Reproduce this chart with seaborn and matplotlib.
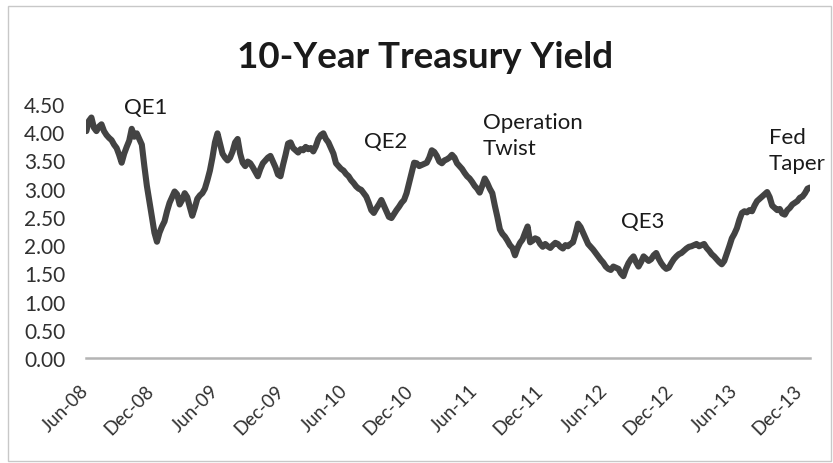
import numpy as np
import pandas as pd
import matplotlib
matplotlib.use("Agg")
import matplotlib.pyplot as plt
import matplotlib.dates as mdates
from matplotlib.patches import Rectangle
import seaborn as sns

# ---- data (weekly readings of the 10-year yield, Jun 2008 - Dec 2013) ----
start_date = "2008-06-02"
end_date = "2013-12-31"
yields = [
    # Jun - Nov 2008
    4.02, 4.20, 4.26, 4.08, 4.02, 4.10, 4.14, 4.02, 3.95, 3.90, 3.86, 3.78, 3.72,
    3.60, 3.46, 3.62, 3.74, 3.85, 4.06, 3.92, 3.98, 3.88, 3.78, 3.40, 3.05, 2.78,
    # Dec 2008 - May 2009
    2.50, 2.22, 2.06, 2.22, 2.33, 2.42, 2.60, 2.75, 2.85, 2.95, 2.90, 2.72, 2.80,
    2.92, 2.85, 2.68, 2.52, 2.66, 2.82, 2.88, 2.92, 3.00, 3.15, 3.32, 3.55, 3.82,
    # Jun - Nov 2009
    3.98, 3.80, 3.62, 3.55, 3.50, 3.55, 3.66, 3.82, 3.88, 3.62, 3.46, 3.40, 3.48,
    3.45, 3.38, 3.30, 3.22, 3.35, 3.45, 3.50, 3.55, 3.58, 3.48, 3.38, 3.25, 3.22,
    # Dec 2009 - May 2010
    3.42, 3.60, 3.80, 3.82, 3.72, 3.68, 3.64, 3.70, 3.68, 3.74, 3.70, 3.72, 3.66,
    3.75, 3.88, 3.95, 3.98, 3.88, 3.82, 3.72, 3.62, 3.45, 3.40, 3.35, 3.32, 3.26,
    # Jun - Nov 2010
    3.22, 3.15, 3.10, 3.04, 3.00, 2.98, 2.92, 2.86, 2.75, 2.62, 2.57, 2.65, 2.72,
    2.80, 2.70, 2.60, 2.50, 2.48, 2.55, 2.62, 2.68, 2.75, 2.80, 2.92, 3.10, 3.28,
    # Dec 2010 - May 2011
    3.46, 3.45, 3.40, 3.42, 3.44, 3.46, 3.55, 3.68, 3.65, 3.58, 3.48, 3.45, 3.50,
    3.52, 3.55, 3.60, 3.55, 3.45, 3.40, 3.35, 3.28, 3.22, 3.18, 3.12, 3.05, 3.00,
    # Jun - Nov 2011
    2.93, 3.05, 3.18, 3.10, 3.00, 2.92, 2.70, 2.50, 2.28, 2.20, 2.15, 2.08, 2.00,
    1.95, 1.82, 1.95, 2.04, 2.10, 2.22, 2.33, 2.05, 2.08, 2.12, 2.10, 2.02, 1.97,
    # Dec 2011 - May 2012
    2.02, 1.98, 1.95, 2.00, 2.04, 2.02, 1.97, 1.94, 2.00, 1.98, 2.02, 2.05, 2.20,
    2.38, 2.32, 2.22, 2.12, 2.02, 1.97, 1.92, 1.86, 1.80, 1.74, 1.69, 1.62, 1.58,
    # Jun - Nov 2012
    1.56, 1.62, 1.60, 1.58, 1.50, 1.45, 1.58, 1.68, 1.75, 1.80, 1.70, 1.62, 1.70,
    1.80, 1.76, 1.72, 1.75, 1.82, 1.86, 1.76, 1.68, 1.62, 1.58, 1.60, 1.68, 1.75,
    # Dec 2012 - May 2013
    1.80, 1.84, 1.86, 1.90, 1.94, 1.97, 1.98, 2.00, 2.02, 1.98, 2.00, 2.02, 1.95,
    1.90, 1.84, 1.80, 1.75, 1.70, 1.66, 1.72, 1.85, 1.98, 2.12, 2.20, 2.30, 2.45,
    # Jun - Dec 2013
    2.57, 2.60, 2.58, 2.62, 2.60, 2.70, 2.78, 2.82, 2.86, 2.90, 2.94, 2.85, 2.70,
    2.66, 2.62, 2.64, 2.56, 2.54, 2.62, 2.66, 2.72, 2.75, 2.78, 2.84, 2.86, 2.92,
    3.00, 3.02,
]
tick_dates = ["2008-06-01", "2008-12-01", "2009-06-01", "2009-12-01", "2010-06-01",
              "2010-12-01", "2011-06-01", "2011-12-01", "2012-06-01", "2012-12-01",
              "2013-06-01", "2013-12-01"]
tick_labels = ["Jun-08", "Dec-08", "Jun-09", "Dec-09", "Jun-10", "Dec-10",
               "Jun-11", "Dec-11", "Jun-12", "Dec-12", "Jun-13", "Dec-13"]
y_ticks = [0.0, 0.5, 1.0, 1.5, 2.0, 2.5, 3.0, 3.5, 4.0, 4.5]
notes = ["QE1", "QE2", "Operation\nTwist", "QE3", "Fed\nTaper"]
note_dates = ["2008-11-15", "2010-09-23", "2011-06-23", "2012-09-16", "2013-09-06"]
note_values = [4.45, 3.84, 3.95, 2.43, 3.68]
note_align = ["center", "center", "left", "center", "left"]

dates = pd.date_range(start_date, end_date, periods=len(yields))
df = pd.DataFrame({"date": dates, "yield": yields})

sns.set_style("white")
plt.rcParams["font.family"] = ["Lato", "DejaVu Sans"]

fig = plt.figure(figsize=(8.33, 4.64), dpi=100)
ax = fig.add_axes([86 / 833, 1 - 359 / 464, (810 - 86) / 833, (359 - 105) / 464])

sns.lineplot(data=df, x="date", y="yield", ax=ax, color="#434343", linewidth=4.4,
             solid_joinstyle="round", solid_capstyle="round")

ax.set_xlim(pd.Timestamp("2008-06-01"), pd.Timestamp(end_date))
ax.set_ylim(0, 4.5)
ax.set_yticks(y_ticks)
ax.set_yticklabels([f"{v:.2f}" for v in y_ticks])
ax.set_xticks([pd.Timestamp(d) for d in tick_dates])
ax.set_xticklabels(tick_labels, rotation=45, ha="right", va="center",
                   rotation_mode="anchor")
ax.tick_params(axis="x", length=0, pad=21, labelsize=13.5, labelcolor="#303030")
ax.tick_params(axis="y", length=0, pad=15, labelsize=15, labelcolor="#303030")
for lbl in ax.get_yticklabels():
    lbl.set_horizontalalignment("right")
ax.set_xlabel("")
ax.set_ylabel("")
ax.grid(False)
for side in ["top", "right", "left"]:
    ax.spines[side].set_visible(False)
ax.spines["bottom"].set_color("#b4b4b4")
ax.spines["bottom"].set_linewidth(1.8)
ax.set_facecolor("none")

for txt, d, v, ha in zip(notes, note_dates, note_values, note_align):
    ax.text(pd.Timestamp(d), v, txt, ha=ha, va="center", fontsize=16,
            color="#1a1a1a", linespacing=1.4)

fig.text(425 / 833, 1 - 57 / 464, "10-Year Treasury Yield", ha="center", va="center",
         fontsize=26.5, fontweight="bold", color="#1a1a1a")

fig.patches.append(Rectangle((8 / 833, 2 / 464), (831 - 8) / 833, (457 - 2) / 464,
                             transform=fig.transFigure, fill=False,
                             edgecolor="#c8c8c8", linewidth=1.0))

fig.savefig("out.png", dpi=100)
